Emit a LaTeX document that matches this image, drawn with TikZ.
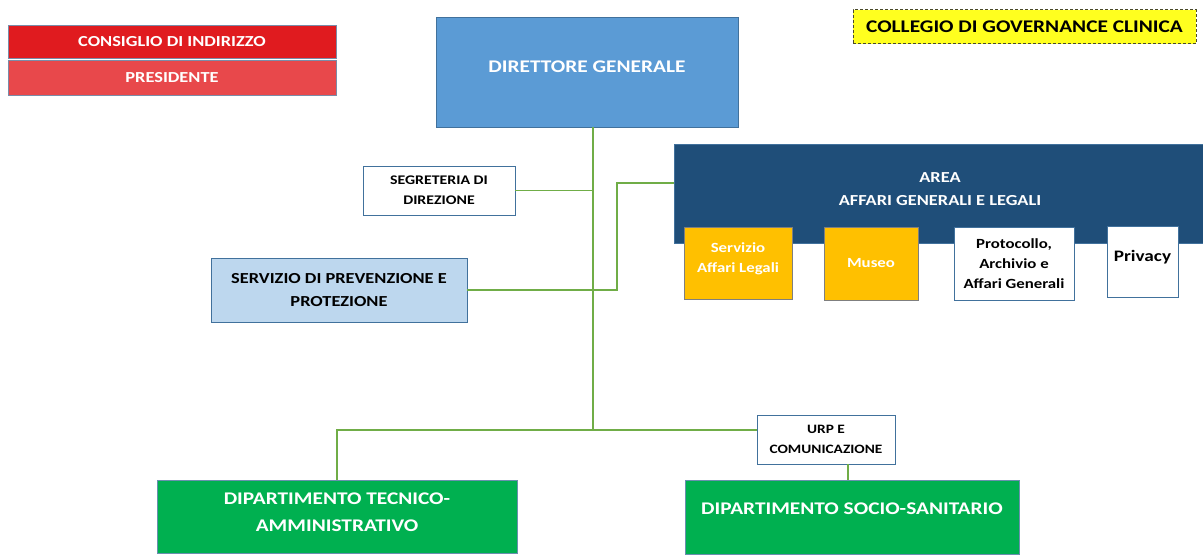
\documentclass[tikz,border=0pt]{standalone}
\usepackage{fontspec}
\setmainfont{Carlito}[FakeStretch=1.2]
\usetikzlibrary{calc}
\definecolor{redA}{HTML}{E01B1F}
\definecolor{redB}{HTML}{E8484B}
\definecolor{frameA}{HTML}{7A8CA8}
\definecolor{yellowA}{HTML}{FFFF1F}
\definecolor{dashc}{HTML}{4A4A2A}
\definecolor{blueDG}{HTML}{5B9BD5}
\definecolor{blueFr}{HTML}{41719C}
\definecolor{blueLt}{HTML}{BDD7EE}
\definecolor{navy}{HTML}{1F4E79}
\definecolor{gold}{HTML}{FFC000}
\definecolor{goldFr}{HTML}{7F7F7F}
\definecolor{greenD}{HTML}{00B050}
\definecolor{greenFr}{HTML}{6A8FAF}
\definecolor{wire}{HTML}{70AD47}
\tikzset{
  box/.style={draw=blueFr, line width=0.8pt, inner sep=1pt, align=center, font=\bfseries},
  fbig/.style={font=\fontsize{17.8}{26.5}\selectfont\bfseries},
  fmid/.style={font=\fontsize{15.3}{23}\selectfont\bfseries},
  fsmall/.style={font=\fontsize{12.8}{20}\selectfont\bfseries},
  fsub/.style={font=\fontsize{14}{20}\selectfont\bfseries},
  txt/.style={inner sep=0pt, align=center},
  link/.style={draw=wire, line width=1.9pt},
}
\begin{document}
\begin{tikzpicture}[x=1pt, y=-1pt]
\useasboundingbox[fill=white] (0,0) rectangle (1203,556);

% governing bodies, top left
\node[box, draw=frameA, fill=redA, text=white, fmid, minimum width=328pt, minimum height=33pt] (consiglio) at (172,41.5) {CONSIGLIO DI INDIRIZZO};
\node[box, draw=frameA, fill=redB, text=white, fmid, minimum width=328pt, minimum height=35pt] (presidente) at (172,77.5) {PRESIDENTE};

% clinical governance board, top right
\node[box, draw=dashc, dash pattern=on 3pt off 2pt, line width=1pt, fill=yellowA, text=black, fbig, minimum width=343pt, minimum height=34pt] (collegio) at (1024.5,27) {COLLEGIO DI GOVERNANCE CLINICA};

% general director
\node[box, fill=blueDG, minimum width=302pt, minimum height=110pt] (dg) at (587,72) {};
\node[txt, fbig, text=white] (dgt) at (587,67) {DIRETTORE GENERALE};

% staff offices
\node[box, fill=white, fsmall, font=\fontsize{13.2}{20}\selectfont\bfseries, minimum width=152pt, minimum height=49pt] (seg) at (439,190.5) {SEGRETERIA DI\\DIREZIONE};
\node[box, fill=blueLt, fmid, minimum width=256pt, minimum height=64pt] (prev) at (339,290) {SERVIZIO DI PREVENZIONE E\\PROTEZIONE};

% general affairs area and its services
\node[box, fill=navy, minimum width=532pt, minimum height=99pt] (area) at (940,193.5) {};
\node[txt, fmid, text=white] (areat) at (940,189) {AREA\\AFFARI GENERALI E LEGALI};
\node[box, draw=goldFr, fill=gold, text=white, fsub, minimum width=108pt, minimum height=72pt] (legali) at (738,263) {};
\node[txt, fsub, text=white] (legalit) at (738,259) {Servizio\\Affari Legali};
\node[box, draw=goldFr, fill=gold, text=white, fsub, minimum width=94pt, minimum height=73pt] (museo) at (871,263.5) {Museo};
\node[box, fill=white, fsub, minimum width=120pt, minimum height=73pt] (proto) at (1014,263.5) {Protocollo,\\Archivio e\\Affari Generali};
\node[box, fill=white, minimum width=71pt, minimum height=71pt] (privacy) at (1142.5,262) {};
\node[txt, font=\fontsize{16}{20}\selectfont\bfseries] (privt) at (1142.5,257) {Privacy};

% public relations office
\node[box, fill=white, fsmall, minimum width=138pt, minimum height=49pt] (urp) at (826,439.5) {URP E\\COMUNICAZIONE};

% departments
\node[box, draw=greenFr, fill=greenD, minimum width=360pt, minimum height=73pt] (dta) at (337,516.5) {};
\node[txt, fbig, text=white] (dtat) at (337,512) {DIPARTIMENTO TECNICO-\\AMMINISTRATIVO};
\node[box, draw=greenFr, fill=greenD, minimum width=334pt, minimum height=74pt] (dss) at (852,517) {};
\node[txt, fbig, text=white] (dsst) at (852,509) {DIPARTIMENTO SOCIO-SANITARIO};

% junctions of the connector tree
\coordinate (spine) at (593,430);
\coordinate (bend) at (617,183);
\coordinate (drop) at (848,0);

% connectors
\draw[link] (dg.south -| spine) -- (spine);
\draw[link] (seg.east) -- (seg.east -| spine);
\draw[link] (prev.east) -| (bend) -- (bend -| area.west);
\draw[link] (spine) -- (spine -| urp.west);
\draw[link] (spine) -| (dta.north);
\draw[link] (urp.south -| drop) -- (dss.north -| drop);
\end{tikzpicture}
\end{document}
